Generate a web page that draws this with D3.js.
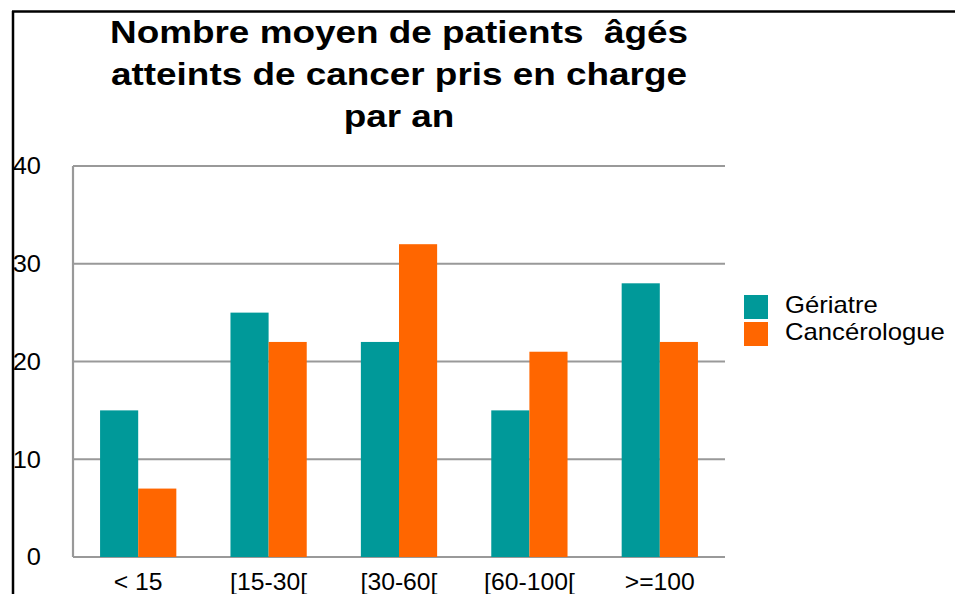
<!DOCTYPE html>
<html>
<head>
<meta charset="utf-8">
<script src="https://cdn.jsdelivr.net/npm/d3@7"></script>
<style>
  body { margin: 0; background: #fff; }
  text { font-family: "Liberation Sans", Arial, sans-serif; white-space: pre; }
</style>
</head>
<body>
<div id="chart"></div>
<script>
var categories = ["< 15", "[15-30[", "[30-60[", "[60-100[", ">=100"];
var seriesNames = ["Gériatre", "Cancérologue"];
var geriatre = [15, 25, 22, 15, 28];
var cancerologue = [7, 22, 32, 21, 22];
var yTicks = [0, 10, 20, 30, 40];
var titleLines = ["Nombre moyen de patients  âgés", "atteints de cancer pris en charge", "par an"];

var colors = ["#009999", "#ff6600"];

var width = 955, height = 594;
var plot = {left: 73, right: 725, top: 166, bottom: 557};

// the original text is drawn a bit wider than Arial
var stretch = 1.06;
var titleStretch = 1.19;

var svg = d3.select("#chart").append("svg")
  .attr("width", width)
  .attr("height", height);

// frame of the original picture (only top and left edges visible)
svg.append("line")
  .attr("x1", 12).attr("y1", 11.5).attr("x2", width).attr("y2", 11.5)
  .attr("stroke", "#000").attr("stroke-width", 2.5);
svg.append("line")
  .attr("x1", 13).attr("y1", 11).attr("x2", 13).attr("y2", height)
  .attr("stroke", "#000").attr("stroke-width", 2.5);

var x = d3.scaleBand()
  .domain(categories)
  .range([plot.left, plot.right])
  .paddingInner(0)
  .paddingOuter(0);

var x1 = d3.scaleBand()
  .domain(seriesNames)
  .range([0, x.bandwidth()])
  .paddingInner(0)
  .paddingOuter(0.71);

var y = d3.scaleLinear()
  .domain([0, 40])
  .range([plot.bottom, plot.top]);

// gridlines
svg.append("g")
  .selectAll("line")
  .data(yTicks)
  .enter().append("line")
  .attr("x1", plot.left)
  .attr("x2", plot.right)
  .attr("y1", d => y(d))
  .attr("y2", d => y(d))
  .attr("stroke", "#999")
  .attr("stroke-width", 2.2);

svg.append("line")
  .attr("x1", plot.left).attr("x2", plot.left)
  .attr("y1", y(40)).attr("y2", y(0))
  .attr("stroke", "#999").attr("stroke-width", 2.2);

// y tick labels
svg.append("g")
  .selectAll("text")
  .data(yTicks)
  .enter().append("text")
  .attr("transform", d => `translate(41, ${y(d)}) scale(${stretch}, 1)`)
  .attr("dy", "0.35em")
  .attr("text-anchor", "end")
  .style("font-size", "24px")
  .text(d => d);

// bars
var series = [geriatre, cancerologue];
var groups = svg.append("g")
  .selectAll("g")
  .data(series)
  .enter().append("g")
  .attr("fill", (d, i) => colors[i]);

groups.selectAll("rect")
  .data((d, i) => d.map((v, j) => ({cat: categories[j], name: seriesNames[i], value: v})))
  .enter().append("rect")
  .attr("x", d => x(d.cat) + x1(d.name))
  .attr("width", x1.bandwidth())
  .attr("y", d => y(d.value))
  .attr("height", d => y(0) - y(d.value));

// x labels
svg.append("g")
  .selectAll("text")
  .data(categories)
  .enter().append("text")
  .attr("transform", d => `translate(${x(d) + x.bandwidth() / 2}, 590) scale(1.03, 1)`)
  .attr("text-anchor", "middle")
  .style("font-size", "24px")
  .text(d => d);

// title
svg.append("g")
  .selectAll("text")
  .data(titleLines)
  .enter().append("text")
  .attr("transform", (d, i) => `translate(399, ${43 + i * 42}) scale(${titleStretch}, 1)`)
  .attr("text-anchor", "middle")
  .style("font-size", "31px")
  .style("font-weight", "bold")
  .text(d => d);

// legend
var legend = svg.append("g")
  .selectAll("g")
  .data(seriesNames)
  .enter().append("g")
  .attr("transform", (d, i) => `translate(744, ${295 + i * 27})`);

legend.append("rect")
  .attr("width", 24)
  .attr("height", 24)
  .attr("fill", (d, i) => colors[i]);

legend.append("text")
  .attr("transform", `translate(41, 18) scale(1.07, 1)`)
  .style("font-size", "24px")
  .text(d => d);
</script>
</body>
</html>
